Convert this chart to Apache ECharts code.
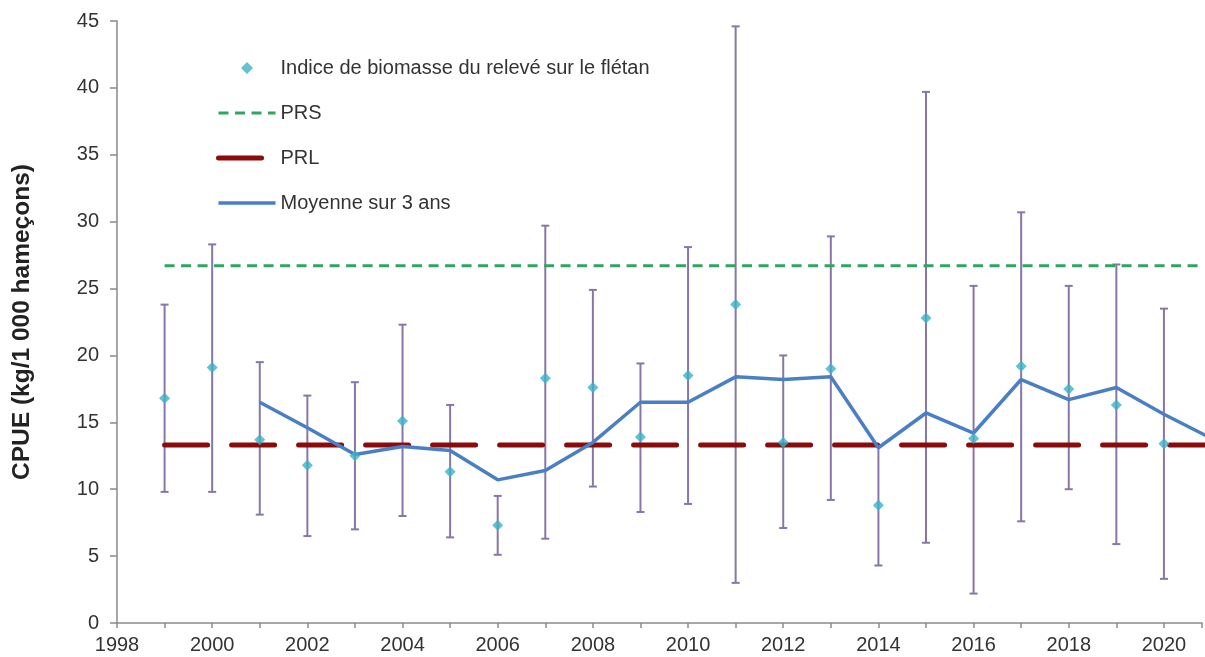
<!DOCTYPE html>
<html>
<head>
<meta charset="utf-8">
<script src="https://cdn.jsdelivr.net/npm/echarts@6/dist/echarts.min.js"></script>
<style>
  html, body { margin: 0; padding: 0; background: #fff; }
  #chart { width: 1205px; height: 657px; }
</style>
</head>
<body>
<div id="chart"></div>
<script>
const years = [1999, 2000, 2001, 2002, 2003, 2004, 2005, 2006, 2007, 2008, 2009,
  2010, 2011, 2012, 2013, 2014, 2015, 2016, 2017, 2018, 2019, 2020];
const biomass = [16.8, 19.1, 13.7, 11.8, 12.5, 15.1, 11.3, 7.3, 18.3, 17.6, 13.9,
  18.5, 23.8, 13.5, 19.0, 8.8, 22.8, 13.8, 19.2, 17.5, 16.3, 13.4];
const errLow = [9.8, 9.8, 8.1, 6.5, 7.0, 8.0, 6.4, 5.1, 6.3, 10.2, 8.3,
  8.9, 3.0, 7.1, 9.2, 4.3, 6.0, 2.2, 7.6, 10.0, 5.9, 3.3];
const errHigh = [23.8, 28.3, 19.5, 17.0, 18.0, 22.3, 16.3, 9.5, 29.7, 24.9, 19.4,
  28.1, 44.6, 20.0, 28.9, 13.3, 39.7, 25.2, 30.7, 25.2, 26.8, 23.5];

const avgYears = [2001, 2002, 2003, 2004, 2005, 2006, 2007, 2008, 2009, 2010, 2011,
  2012, 2013, 2014, 2015, 2016, 2017, 2018, 2019, 2020, 2021];
const avg = [16.5, 14.6, 12.6, 13.2, 12.9, 10.7, 11.4, 13.5, 16.5, 16.5, 18.4,
  18.2, 18.4, 13.1, 15.7, 14.2, 18.2, 16.7, 17.6, 15.6, 13.8];

const refYears = [1999, 2021];
const prs = 26.7;
const prl = 13.3;

const names = ['Indice de biomasse du relevé sur le flétan', 'PRS', 'PRL', 'Moyenne sur 3 ans'];
const font = 'Liberation Sans, Arial, sans-serif';
const noSymbol = { opacity: 0 };
// diamond centred in a box as wide as the legend item, so it is not stretched
const diamondIcon = 'path://M0,6L0,6.01L0.01,6Z M22.5,6L28.5,0L34.5,6L28.5,12Z M57,6L57,6.01L56.99,6Z';

const chart = echarts.init(document.getElementById('chart'));

chart.setOption({
  animation: false,
  grid: { left: 117, right: 0, top: 21, bottom: 34 },
  legend: {
    orient: 'vertical',
    left: 211,
    top: 53,
    itemWidth: 57,
    itemHeight: 12,
    itemGap: 25,
    textStyle: { fontFamily: font, fontSize: 20, color: '#333', lineHeight: 20 },
    data: [
      { name: names[0], icon: diamondIcon },
      { name: names[1], itemStyle: noSymbol, lineStyle: { width: 3 } },
      { name: names[2], itemStyle: noSymbol, lineStyle: { width: 5 } },
      { name: names[3], itemStyle: noSymbol, lineStyle: { width: 3.5 } },
    ],
  },
  xAxis: {
    type: 'value',
    min: 1998,
    max: 2020.8,
    interval: 1,
    splitLine: { show: false },
    axisLine: { lineStyle: { color: '#8a8a8a', width: 1.5 } },
    axisTick: { length: 5, lineStyle: { color: '#8a8a8a', width: 1.5 } },
    axisLabel: {
      fontFamily: font,
      fontSize: 20,
      color: '#333',
      margin: 12,
      formatter: v => (v % 2 === 0 ? String(v) : ''),
    },
  },
  yAxis: {
    type: 'value',
    min: 0,
    max: 45,
    interval: 5,
    name: 'CPUE (kg/1 000 hameçons)',
    nameLocation: 'middle',
    nameGap: 82,
    nameTextStyle: { fontFamily: font, fontSize: 24.5, fontWeight: 'bold', color: '#222' },
    splitLine: { show: false },
    axisLine: { show: true, lineStyle: { color: '#8a8a8a', width: 1.5 } },
    axisTick: { show: true, length: 7, lineStyle: { color: '#8a8a8a', width: 1.5 } },
    axisLabel: { fontFamily: font, fontSize: 20, color: '#333', margin: 18 },
  },
  series: [
    {
      type: 'custom',
      name: 'err',
      z: 1,
      data: years.map((y, i) => [y, errLow[i], errHigh[i]]),
      renderItem: (params, api) => {
        const x = api.value(0);
        const lo = api.coord([x, api.value(1)]);
        const hi = api.coord([x, api.value(2)]);
        const w = 4;
        const style = { stroke: '#8777a8', lineWidth: 2 };
        return {
          type: 'group',
          children: [
            { type: 'line', shape: { x1: hi[0], y1: hi[1], x2: lo[0], y2: lo[1] }, style },
            { type: 'line', shape: { x1: hi[0] - w, y1: hi[1], x2: hi[0] + w, y2: hi[1] }, style },
            { type: 'line', shape: { x1: lo[0] - w, y1: lo[1], x2: lo[0] + w, y2: lo[1] }, style },
          ],
        };
      },
    },
    {
      type: 'line',
      name: names[1],
      z: 2,
      symbol: 'none',
      data: refYears.map(y => [y, prs]),
      lineStyle: { color: '#2fa660', width: 3, type: [10, 6.5] },
      itemStyle: { color: '#2fa660' },
    },
    {
      type: 'line',
      name: names[2],
      z: 3,
      symbol: 'none',
      data: refYears.map(y => [y, prl]),
      lineStyle: { color: '#8b0a0a', width: 5, type: [43, 24], cap: 'round' },
      itemStyle: { color: '#8b0a0a' },
    },
    {
      type: 'line',
      name: names[3],
      z: 4,
      symbol: 'none',
      data: avgYears.map((y, i) => [y, avg[i]]),
      lineStyle: { color: '#4a7fc6', width: 3.5 },
      itemStyle: { color: '#4a7fc6' },
    },
    {
      type: 'scatter',
      name: names[0],
      z: 5,
      symbol: 'diamond',
      symbolSize: 11,
      data: years.map((y, i) => [y, biomass[i]]),
      itemStyle: { color: '#3bb2c8' },
    },
  ],
});
</script>
</body>
</html>
